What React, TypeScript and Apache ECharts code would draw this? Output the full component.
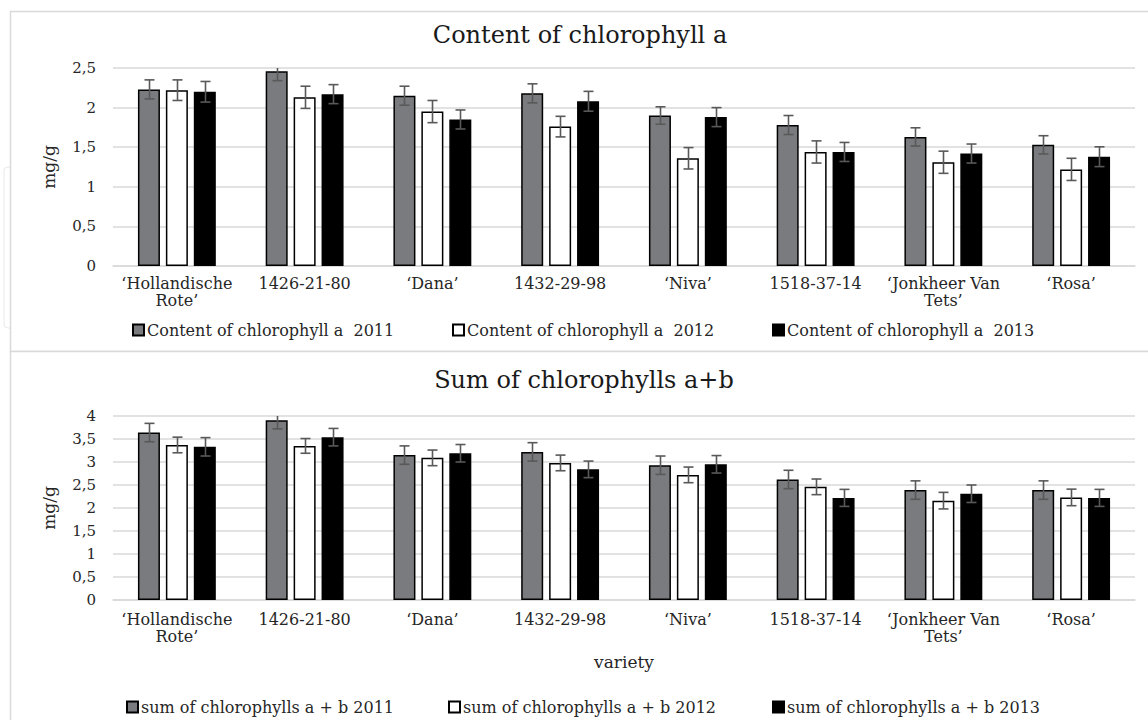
import React, { useEffect, useRef } from "react";
import * as echarts from "echarts";

const categories = [
  "‘Hollandische\nRote’",
  "1426-21-80",
  "‘Dana’",
  "1432-29-98",
  "‘Niva’",
  "1518-37-14",
  "‘Jonkheer Van\nTets’",
  "‘Rosa’",
];

const topTitle = "Content of chlorophyll a";
const bottomTitle = "Sum of chlorophylls a+b";
const yName = "mg/g";
const xName = "variety";

const topNames = [
  "Content of chlorophyll a  2011",
  "Content of chlorophyll a  2012",
  "Content of chlorophyll a  2013",
];
const bottomNames = [
  "sum of chlorophylls a + b 2011",
  "sum of chlorophylls a + b 2012",
  "sum of chlorophylls a + b 2013",
];

const chlA2011 = [2.23, 2.46, 2.15, 2.18, 1.9, 1.78, 1.63, 1.53];
const chlA2012 = [2.22, 2.13, 1.95, 1.76, 1.36, 1.44, 1.31, 1.22];
const chlA2013 = [2.2, 2.17, 1.85, 2.08, 1.88, 1.44, 1.42, 1.38];
const chlAErr2011 = [0.12, 0.12, 0.12, 0.12, 0.11, 0.12, 0.115, 0.115];
const chlAErr2012 = [0.13, 0.14, 0.14, 0.13, 0.135, 0.14, 0.14, 0.14];
const chlAErr2013 = [0.13, 0.12, 0.12, 0.125, 0.12, 0.12, 0.12, 0.125];

const sum2011 = [3.64, 3.91, 3.15, 3.22, 2.93, 2.62, 2.39, 2.39];
const sum2012 = [3.37, 3.35, 3.09, 2.98, 2.72, 2.46, 2.16, 2.23];
const sum2013 = [3.33, 3.54, 3.19, 2.84, 2.95, 2.22, 2.31, 2.22];
const sumErr2011 = [0.2, 0.19, 0.2, 0.2, 0.2, 0.2, 0.2, 0.2];
const sumErr2012 = [0.17, 0.16, 0.17, 0.17, 0.17, 0.17, 0.18, 0.18];
const sumErr2013 = [0.2, 0.19, 0.19, 0.18, 0.19, 0.185, 0.19, 0.185];

const topMax = 2.5;
const bottomMax = 4;
const yInterval = 0.5;

const FONT = "DejaVu Serif";
const fills = ["#7a7b7f", "#ffffff", "#000000"];
const BAR_W = 22;
const BAR_STEP = 28;

function errorSeries(
  name: string,
  values: number[],
  errs: number[],
  idx: number,
  axis: number,
  max: number
) {
  return {
    type: "custom",
    name,
    xAxisIndex: axis,
    yAxisIndex: axis,
    z: 5,
    silent: true,
    data: values.map((v, i) => [i, v, errs[i]]),
    renderItem: (params: any, api: any) => {
      const ci = api.value(0);
      const v = api.value(1);
      const e = api.value(2);
      const off = (idx - 1) * BAR_STEP;
      const hi = Math.min(v + e, max);
      const clipped = v + e > max;
      const p = api.coord([ci, v]);
      const x = Math.round(p[0] + off) + 0.5;
      const yTop = api.coord([ci, hi])[1];
      const yBot = api.coord([ci, v - e])[1];
      const st = { stroke: "#595959", lineWidth: 1.6 };
      const children: any[] = [
        { type: "line", shape: { x1: x, y1: yTop, x2: x, y2: yBot }, style: st },
        { type: "line", shape: { x1: x - 5, y1: yBot, x2: x + 5, y2: yBot }, style: st },
      ];
      if (!clipped) {
        children.push({
          type: "line",
          shape: { x1: x - 5, y1: yTop, x2: x + 5, y2: yTop },
          style: st,
        });
      }
      return { type: "group", children };
    },
  };
}

function barSeries(name: string, values: number[], idx: number, axis: number) {
  return {
    type: "bar",
    name,
    xAxisIndex: axis,
    yAxisIndex: axis,
    barWidth: BAR_W,
    barGap: "27%",
    itemStyle: { color: fills[idx], borderColor: "#000000", borderWidth: 1.5 },
    data: values,
  };
}

export default function App() {
  const ref = useRef<HTMLDivElement>(null);
  useEffect(() => {
    if (!ref.current) return;
    const chart = echarts.init(ref.current, null, { renderer: "svg" });
    const commonX = (gridIndex: number, margin: number) => ({
      type: "category",
      gridIndex,
      data: categories,
      axisTick: { show: false },
      axisLine: { lineStyle: { color: "#d9d9d9", width: 1.5 } },
      axisLabel: {
        interval: 0,
        margin,
        fontFamily: FONT,
        fontSize: 16,
        lineHeight: 17,
        color: "#262626",
      },
    });
    const commonY = (gridIndex: number, max: number) => ({
      type: "value",
      gridIndex,
      min: 0,
      max,
      interval: yInterval,
      name: yName,
      nameLocation: "middle",
      nameGap: 56,
      nameRotate: 90,
      nameTextStyle: { fontFamily: FONT, fontSize: 17, color: "#262626" },
      axisLine: { show: false },
      axisTick: { show: false },
      splitLine: { lineStyle: { color: "#d9d9d9", width: 1.5 } },
      axisLabel: {
        margin: 17,
        fontFamily: FONT,
        fontSize: 15,
        color: "#262626",
        formatter: (v: number) => String(v).replace(".", ","),
      },
    });
    const legendItem = (name: string, left: number, top: number) => ({
      data: [name],
      left,
      top,
      icon: "rect",
      itemWidth: 11,
      itemHeight: 11,
      itemGap: 0,
      padding: 0,
      selectedMode: false,
      textStyle: { fontFamily: FONT, fontSize: 16, color: "#262626", padding: [0, 0, 0, -2] },
    });
    chart.setOption({
      animation: false,
      backgroundColor: "#ffffff",
      title: [
        {
          text: topTitle,
          left: 580,
          top: 23,
          textAlign: "center",
          padding: 0,
          textStyle: { fontFamily: FONT, fontSize: 24, fontWeight: "normal", color: "#1a1a1a" },
        },
        {
          text: bottomTitle,
          left: 584,
          top: 368,
          textAlign: "center",
          padding: 0,
          textStyle: { fontFamily: FONT, fontSize: 24, fontWeight: "normal", color: "#1a1a1a" },
        },
      ],
      graphic: [
        {
          type: "rect",
          z: -20,
          silent: true,
          shape: { x: 4, y: 167, width: 40, height: 161, r: 4 },
          style: { fill: "#ffffff", stroke: "#e8e8e8", lineWidth: 1 },
        },
        {
          type: "rect",
          z: -10,
          silent: true,
          shape: { x: 10.5, y: 11.5, width: 1200, height: 340 },
          style: { fill: "#ffffff", stroke: "#d9d9d9", lineWidth: 1.5 },
        },
        {
          type: "rect",
          z: -10,
          silent: true,
          shape: { x: 10.5, y: 351.5, width: 1200, height: 400 },
          style: { fill: "#ffffff", stroke: "#d9d9d9", lineWidth: 1.5 },
        },
      ],
      legend: [
        legendItem(topNames[0], 132, 322),
        legendItem(topNames[1], 452, 322),
        legendItem(topNames[2], 772, 322),
        legendItem(bottomNames[0], 126, 699),
        legendItem(bottomNames[1], 448, 699),
        legendItem(bottomNames[2], 772, 699),
      ],
      grid: [
        { left: 113, right: 13, top: 68, height: 198 },
        { left: 113, right: 13, top: 416, height: 184 },
      ],
      xAxis: [
        commonX(0, 9),
        {
          ...commonX(1, 11),
          name: xName,
          nameLocation: "middle",
          nameGap: 53,
          nameTextStyle: { fontFamily: FONT, fontSize: 17, color: "#262626" },
        },
      ],
      yAxis: [commonY(0, topMax), commonY(1, bottomMax)],
      series: [
        barSeries(topNames[0], chlA2011, 0, 0),
        barSeries(topNames[1], chlA2012, 1, 0),
        barSeries(topNames[2], chlA2013, 2, 0),
        errorSeries("errA2011", chlA2011, chlAErr2011, 0, 0, topMax),
        errorSeries("errA2012", chlA2012, chlAErr2012, 1, 0, topMax),
        errorSeries("errA2013", chlA2013, chlAErr2013, 2, 0, topMax),
        barSeries(bottomNames[0], sum2011, 0, 1),
        barSeries(bottomNames[1], sum2012, 1, 1),
        barSeries(bottomNames[2], sum2013, 2, 1),
        errorSeries("errS2011", sum2011, sumErr2011, 0, 1, bottomMax),
        errorSeries("errS2012", sum2012, sumErr2012, 1, 1, bottomMax),
        errorSeries("errS2013", sum2013, sumErr2013, 2, 1, bottomMax),
      ],
    });
    return () => chart.dispose();
  }, []);
  return (
    <div
      ref={ref}
      style={{ position: "fixed", left: 0, top: 0, width: 1148, height: 720 }}
    />
  );
}
